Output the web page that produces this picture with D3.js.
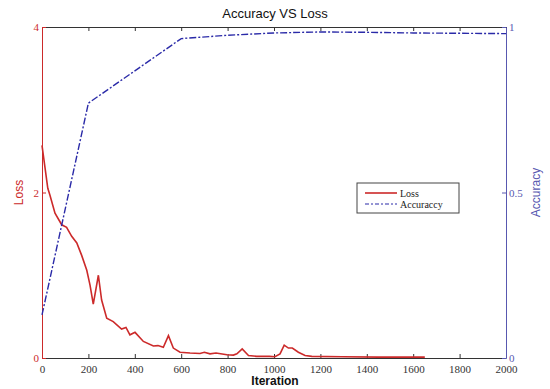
<!DOCTYPE html>
<html>
<head>
<meta charset="utf-8">
<script src="https://cdn.jsdelivr.net/npm/d3@7"></script>
<style>
  body { margin: 0; background: #fff; }
  svg { display: block; }
</style>
</head>
<body>
<div id="chart"></div>
<script>
// iterations and values
const lossIter = [0, 25, 34, 56, 85, 106, 128, 150, 171, 193, 207, 221, 243, 257, 279, 307, 343, 362, 379, 401, 437, 480, 500, 523, 545, 566, 595, 638, 681, 700, 724, 750, 797, 825, 840, 863, 890, 925, 980, 1004, 1026, 1044, 1062, 1079, 1105, 1134, 1163, 1293, 1450, 1650];
const lossVal = [2.57, 2.05, 1.97, 1.75, 1.61, 1.58, 1.47, 1.39, 1.24, 1.06, 0.88, 0.65, 1.0, 0.70, 0.48, 0.44, 0.35, 0.37, 0.28, 0.31, 0.20, 0.145, 0.15, 0.13, 0.27, 0.12, 0.07, 0.06, 0.055, 0.07, 0.05, 0.06, 0.04, 0.035, 0.05, 0.11, 0.03, 0.02, 0.02, 0.015, 0.05, 0.155, 0.12, 0.12, 0.07, 0.03, 0.02, 0.015, 0.01, 0.01];
const accIter = [0, 200, 600, 800, 1000, 1200, 1400, 1600, 1800, 2000];
const accVal = [0.13, 0.77, 0.965, 0.975, 0.982, 0.985, 0.984, 0.982, 0.981, 0.98];
const xTicks = [0, 200, 400, 600, 800, 1000, 1200, 1400, 1600, 1800, 2000];
const lossTicks = [0, 2, 4];
const accTicks = [0, 0.5, 1];

const W = 550, H = 389;
const m = { left: 42, right: 44, top: 27, bottom: 31 };

const svg = d3.select("#chart").append("svg")
  .attr("width", W).attr("height", H);

const x = d3.scaleLinear().domain([0, 2000]).range([m.left, W - m.right]);
const yL = d3.scaleLinear().domain([0, 4]).range([H - m.bottom, m.top]);
const yA = d3.scaleLinear().domain([0, 1]).range([H - m.bottom, m.top]);

const red = "#cc2a2a", blue = "#2a2aa8", axisBlue = "#5858b0", dark = "#333";
const plain = d3.format("");

// bottom and top axes
const xb = svg.append("g")
  .attr("transform", `translate(0,${H - m.bottom})`)
  .call(d3.axisBottom(x).tickValues(xTicks).tickFormat(plain).tickSizeInner(-4).tickSizeOuter(0).tickPadding(7));
const xt = svg.append("g")
  .attr("transform", `translate(0,${m.top})`)
  .call(d3.axisTop(x).tickValues(xTicks).tickSizeInner(-4).tickSizeOuter(0).tickFormat(""));
[xb, xt].forEach(g => {
  g.selectAll("path, line").attr("stroke", dark);
  g.selectAll("text").attr("fill", "#333")
    .style("font-family", "Liberation Serif, serif").style("font-size", "11px");
});

// left axis
const yl = svg.append("g")
  .attr("transform", `translate(${m.left},0)`)
  .call(d3.axisLeft(yL).tickValues(lossTicks).tickFormat(plain).tickSizeInner(-4).tickSizeOuter(0).tickPadding(3));
yl.selectAll("path, line").attr("stroke", red);
yl.selectAll("text").attr("fill", red)
  .style("font-family", "Liberation Serif, serif").style("font-size", "11px");

// right axis
const yr = svg.append("g")
  .attr("transform", `translate(${W - m.right},0)`)
  .call(d3.axisRight(yA).tickValues(accTicks).tickFormat(plain).tickSizeInner(-4).tickSizeOuter(0).tickPadding(3));
yr.selectAll("path, line").attr("stroke", axisBlue);
yr.selectAll("text").attr("fill", axisBlue)
  .style("font-family", "Liberation Serif, serif").style("font-size", "11px");

// lines
const lossData = lossIter.map((d, i) => [d, lossVal[i]]);
const accData = accIter.map((d, i) => [d, accVal[i]]);

svg.append("path").datum(lossData)
  .attr("fill", "none").attr("stroke", red).attr("stroke-width", 1.6)
  .attr("d", d3.line().x(d => x(d[0])).y(d => yL(d[1])));

svg.append("path").datum(accData)
  .attr("fill", "none").attr("stroke", blue).attr("stroke-width", 1.4)
  .attr("stroke-dasharray", "7,2,2,2")
  .attr("d", d3.line().x(d => x(d[0])).y(d => yA(d[1])));

// title and axis labels
svg.append("text").attr("x", 275).attr("y", 18).attr("text-anchor", "middle")
  .style("font-family", "Liberation Sans, Arial, sans-serif").style("font-size", "13px")
  .attr("fill", "#111").text("Accuracy VS Loss");

svg.append("text").attr("x", 275).attr("y", 385).attr("text-anchor", "middle")
  .style("font-family", "Liberation Sans, Arial, sans-serif").style("font-size", "12px")
  .style("font-weight", "bold").attr("fill", "#111").text("Iteration");

svg.append("text").attr("transform", `translate(23,${(m.top + H - m.bottom) / 2}) rotate(-90)`)
  .attr("text-anchor", "middle")
  .style("font-family", "Liberation Sans, Arial, sans-serif").style("font-size", "12px")
  .attr("fill", red).text("Loss");

svg.append("text").attr("transform", `translate(540,${(m.top + H - m.bottom) / 2}) rotate(-90)`)
  .attr("text-anchor", "middle")
  .style("font-family", "Liberation Sans, Arial, sans-serif").style("font-size", "12px")
  .attr("fill", axisBlue).text("Accuracy");

// legend
const lg = svg.append("g").attr("transform", "translate(357,183)");
lg.append("rect").attr("width", 102).attr("height", 30)
  .attr("fill", "#fff").attr("stroke", "#444").attr("stroke-width", 1);
const items = [
  { name: "Loss", color: red, dash: null, w: 1.6 },
  { name: "Accuraccy", color: blue, dash: "4,2,2,2", w: 1 }
];
items.forEach((it, i) => {
  const yy = 10 + i * 11;
  lg.append("line").attr("x1", 8).attr("x2", 40).attr("y1", yy).attr("y2", yy)
    .attr("stroke", it.color).attr("stroke-width", it.w)
    .attr("stroke-dasharray", it.dash);
  lg.append("text").attr("x", 43).attr("y", yy).attr("dy", "0.35em")
    .style("font-family", "Liberation Serif, serif").style("font-size", "10px")
    .attr("fill", "#222").text(it.name);
});
</script>
</body>
</html>
